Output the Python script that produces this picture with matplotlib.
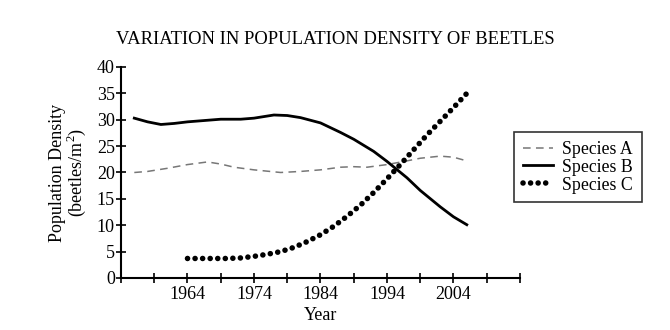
import matplotlib.pyplot as plt
import numpy as np

plt.rcParams['font.family'] = ['Liberation Serif', 'DejaVu Serif']
plt.rcParams['mathtext.fontset'] = 'custom'
plt.rcParams['mathtext.rm'] = 'Liberation Serif'

# values
years_a = [1956, 1958, 1961, 1964, 1967, 1969, 1971, 1974, 1978, 1981, 1984, 1987, 1989, 1991, 1994, 1997, 1999, 2002, 2004, 2006]
species_a = [20.0, 20.2, 20.8, 21.5, 22.0, 21.6, 21.0, 20.5, 20.0, 20.2, 20.5, 21.0, 21.1, 21.0, 21.5, 22.2, 22.7, 23.1, 22.9, 22.2]

years_b = [1956, 1958, 1960, 1962, 1964, 1967, 1969, 1972, 1974, 1977, 1979, 1981, 1984, 1987, 1989, 1992, 1994, 1997, 1999, 2002, 2004, 2006]
species_b = [30.3, 29.6, 29.1, 29.3, 29.6, 29.9, 30.1, 30.1, 30.3, 30.9, 30.8, 30.4, 29.4, 27.6, 26.3, 24.0, 22.1, 19.0, 16.6, 13.5, 11.6, 10.1]

years_c = [1964, 1967, 1970, 1972, 1974, 1976, 1978, 1980, 1982, 1984, 1986, 1988, 1990, 1992, 1994, 1996, 1998, 2000, 2002, 2004, 2006.3]
species_c = [3.7, 3.7, 3.7, 3.8, 4.1, 4.5, 5.0, 5.8, 6.9, 8.2, 9.8, 11.7, 13.8, 16.2, 18.8, 21.5, 24.3, 27.1, 29.7, 32.3, 35.4]

x_ticks = list(range(1954, 2015, 5))
x_labels = ['', '', '1964', '', '1974', '', '1984', '', '1994', '', '2004', '', '']

fig = plt.figure(figsize=(6.7, 3.3), dpi=100)
ax = fig.add_axes([0.1806, 0.1576, 0.5955, 0.6394])

ax.plot(years_a, species_a, color='#777777', lw=1.1, dashes=(5, 3.5), label='Species A')
ax.plot(years_b, species_b, color='black', lw=2.0, label='Species B')
ax.plot(years_c, species_c, color='black', lw=4.0, linestyle=(0, (0.01, 1.35)),
        dash_capstyle='round', label='Species C')

ax.set_xlim(1954, 2014)
ax.set_ylim(0, 40)
ax.set_xticks(x_ticks)
ax.set_xticklabels(x_labels)
ax.set_yticks(np.arange(0, 41, 5))
ax.tick_params(direction='inout', length=7, width=1.2, labelsize=13, pad=1)
ax.tick_params(axis='x', pad=2)
for s in ['top', 'right']:
    ax.spines[s].set_visible(False)
for s in ['left', 'bottom']:
    ax.spines[s].set_linewidth(1.5)

ax.set_xlabel('Year', fontsize=13, labelpad=3)
ax.set_ylabel('Population Density\n(beetles/m$^2$)', fontsize=13, labelpad=6, linespacing=0.95)
fig.suptitle('VARIATION IN POPULATION DENSITY OF BEETLES', fontsize=13.4, x=0.5, y=0.907)

leg = ax.legend(loc='center left', bbox_to_anchor=(0.985, 0.525), fontsize=12.8, frameon=True,
                fancybox=False, edgecolor='black', handlelength=1.7, handletextpad=0.5,
                labelspacing=0.05, borderpad=0.5, borderaxespad=0)
leg.get_frame().set_linewidth(1.2)

fig.savefig('out.png', dpi=100)
